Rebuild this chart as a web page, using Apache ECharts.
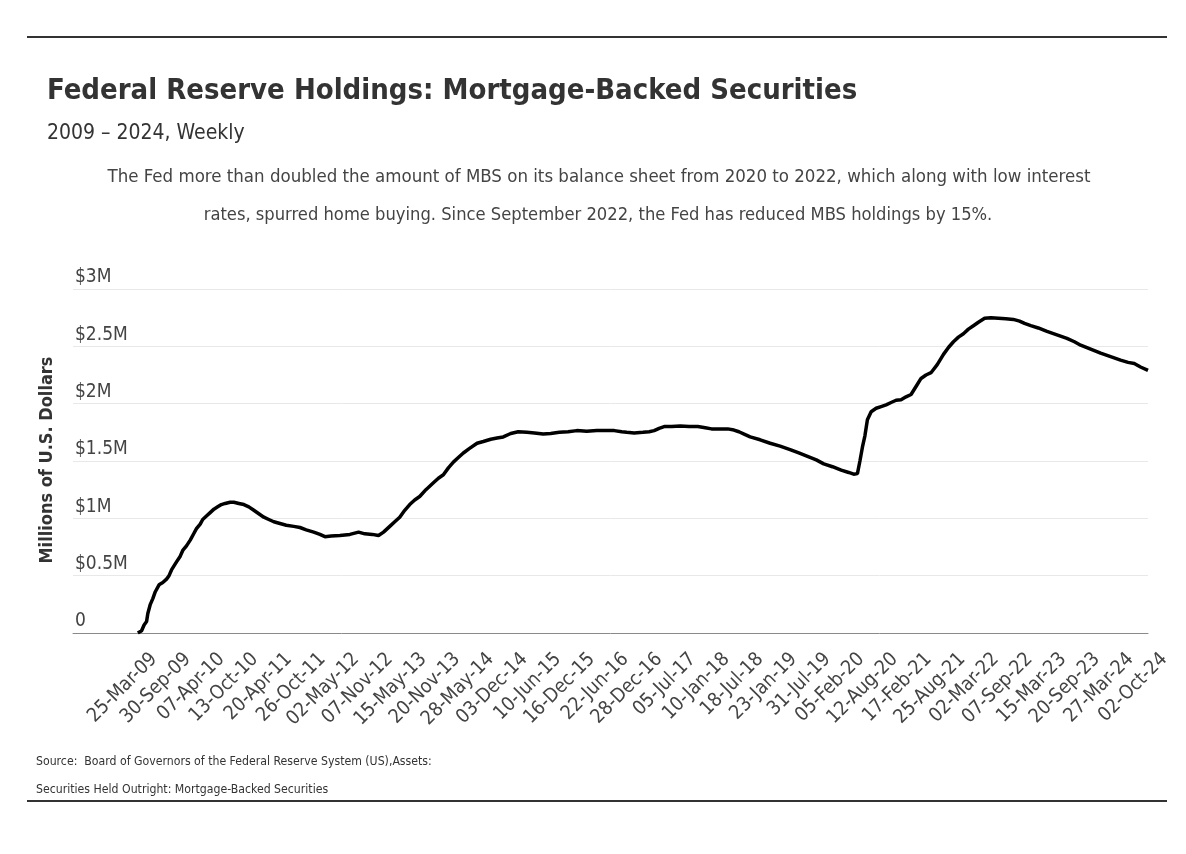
<!DOCTYPE html>
<html>
<head>
<meta charset="utf-8">
<script src="https://cdn.jsdelivr.net/npm/echarts@6/dist/echarts.min.js"></script>
<style>
html,body{margin:0;padding:0;background:#fff;}
#chart{width:1186px;height:854px;}
</style>
</head>
<body>
<div id="chart"></div>
<script>
// Week index since 25-Mar-09 (weekly data)
const weeks = [0,3,5,7,8,10,12,14,17,20,23,25,27,31,34,36,39,42,45,47,50,52,55,58,61,64,67,70,74,77,81,85,89,93,97,101,105,109,114,119,125,130,135,141,146,150,155,162,170,177,182,188,193,197,202,206,210,214,218,222,226,231,237,241,245,249,253,257,261,266,272,277,283,288,293,299,305,312,318,325,331,338,345,352,360,368,375,382,388,392,398,405,410,414,418,422,428,435,442,449,455,460,466,473,478,482,487,491,499,507,515,523,530,537,544,550,557,564,570,574,577,579,581,583,585,588,592,596,600,604,608,612,616,620,624,628,632,636,641,646,650,654,658,662,666,670,674,679,684,690,696,702,707,711,716,722,729,737,745,751,756,764,772,780,788,794,799,804,810];
// MBS holdings, millions of U.S. dollars (axis units "$M")
const values = [0,0.02,0.07,0.10,0.17,0.25,0.30,0.36,0.42,0.44,0.47,0.50,0.55,0.62,0.67,0.72,0.76,0.81,0.87,0.91,0.95,0.99,1.02,1.05,1.08,1.10,1.12,1.13,1.14,1.14,1.13,1.12,1.10,1.07,1.04,1.01,0.99,0.97,0.955,0.94,0.93,0.92,0.90,0.88,0.86,0.84,0.845,0.85,0.86,0.88,0.865,0.86,0.85,0.88,0.93,0.97,1.01,1.07,1.12,1.16,1.19,1.25,1.31,1.35,1.38,1.44,1.49,1.53,1.57,1.61,1.655,1.67,1.69,1.70,1.71,1.74,1.755,1.75,1.745,1.735,1.74,1.75,1.755,1.765,1.76,1.765,1.765,1.765,1.755,1.75,1.745,1.75,1.755,1.765,1.785,1.80,1.80,1.805,1.80,1.80,1.79,1.78,1.78,1.78,1.77,1.755,1.73,1.71,1.685,1.655,1.63,1.60,1.57,1.54,1.51,1.475,1.45,1.42,1.40,1.385,1.39,1.50,1.62,1.72,1.86,1.93,1.96,1.975,1.99,2.01,2.03,2.035,2.06,2.08,2.15,2.22,2.25,2.27,2.34,2.43,2.49,2.54,2.58,2.61,2.65,2.68,2.71,2.745,2.75,2.745,2.74,2.735,2.72,2.70,2.68,2.66,2.63,2.60,2.57,2.54,2.51,2.475,2.44,2.41,2.38,2.36,2.35,2.32,2.29];
const tickLabels = ['25-Mar-09','30-Sep-09','07-Apr-10','13-Oct-10','20-Apr-11','26-Oct-11','02-May-12','07-Nov-12','15-May-13','20-Nov-13','28-May-14','03-Dec-14','10-Jun-15','16-Dec-15','22-Jun-16','28-Dec-16','05-Jul-17','10-Jan-18','18-Jul-18','23-Jan-19','31-Jul-19','05-Feb-20','12-Aug-20','17-Feb-21','25-Aug-21','02-Mar-22','07-Sep-22','15-Mar-23','20-Sep-23','27-Mar-24','02-Oct-24'];
const tickStep = 27; // weeks between labels
const yTickLabels = ['0','$0.5M','$1M','$1.5M','$2M','$2.5M','$3M'];

const title = 'Federal Reserve Holdings: Mortgage-Backed Securities';
const subtitle = '2009 \u2013 2024, Weekly';
const desc1 = 'The Fed more than doubled the amount of MBS on its balance sheet from 2020 to 2022, which along with low interest';
const desc2 = 'rates, spurred home buying. Since September 2022, the Fed has reduced MBS holdings by 15%.';
const yName = 'Millions of U.S. Dollars';
const source1 = 'Source:  Board of Governors of the Federal Reserve System (US),Assets:';
const source2 = 'Securities Held Outright: Mortgage-Backed Securities';

const FONT = '"DejaVu Sans Condensed", "Liberation Sans Narrow", sans-serif';
const tickValues = tickLabels.map((_, i) => i * tickStep);
const seriesData = weeks.map((w, i) => [w, values[i]]);

const chart = echarts.init(document.getElementById('chart'), null, {renderer: 'canvas'});
chart.setOption({
  backgroundColor: '#ffffff',
  animation: false,
  textStyle: {fontFamily: FONT},
  grid: {left: 73, right: 38, top: 289, bottom: 221, containLabel: false},
  xAxis: {
    type: 'value', min: -52, max: 810,
    splitLine: {show: false},
    axisTick: {show: false},
    axisLine: {show: true, lineStyle: {color: '#8a8a8a', width: 1}},
    axisLabel: {
      customValues: tickValues,
      rotate: 45, margin: 7,
      verticalAlign: 'top', padding: [13, 0, 0, 0],
      color: '#444', fontSize: 19.5, fontFamily: FONT,
      formatter: v => tickLabels[Math.round(v / tickStep)] || ''
    }
  },
  yAxis: {
    type: 'value', min: 0, max: 3, interval: 0.5,
    axisLine: {show: false}, axisTick: {show: false},
    splitLine: {lineStyle: {color: '#e8e8e8', width: 1}},
    axisLabel: {
      inside: true, margin: 2, verticalAlign: 'bottom', padding: [0, 0, 2, 0],
      color: '#444', fontSize: 19, fontFamily: FONT,
      formatter: v => yTickLabels[Math.round(v / 0.5)]
    }
  },
  series: [{
    type: 'line', data: seriesData, showSymbol: false, symbol: 'none',
    lineStyle: {color: '#000', width: 3.5}, z: 5
  }],
  graphic: [
    {type: 'line', shape: {x1: 27, y1: 37, x2: 1167, y2: 37}, style: {stroke: '#333', lineWidth: 2}},
    {type: 'text', x: 47, y: 91, style: {text: title, font: 'bold 29px ' + FONT, fill: '#333', textVerticalAlign: 'middle'}},
    {type: 'text', x: 47, y: 134, style: {text: subtitle, font: '21px ' + FONT, fill: '#333', textVerticalAlign: 'middle'}},
    {type: 'text', x: 599, y: 177, style: {text: desc1, font: '18.5px ' + FONT, fill: '#444', textAlign: 'center', textVerticalAlign: 'middle'}},
    {type: 'text', x: 598, y: 215, style: {text: desc2, font: '18.2px ' + FONT, fill: '#444', textAlign: 'center', textVerticalAlign: 'middle'}},
    {type: 'text', x: 47, y: 460, rotation: Math.PI / 2, style: {text: yName, font: 'bold 18px ' + FONT, fill: '#333', textAlign: 'center', textVerticalAlign: 'middle'}},
    {type: 'text', x: 36, y: 762, style: {text: source1, font: '12.2px ' + FONT, fill: '#333', textVerticalAlign: 'middle'}},
    {type: 'text', x: 36, y: 790, style: {text: source2, font: '12.2px ' + FONT, fill: '#333', textVerticalAlign: 'middle'}},
    {type: 'line', shape: {x1: 27, y1: 801, x2: 1167, y2: 801}, style: {stroke: '#333', lineWidth: 2}}
  ]
});
</script>
</body>
</html>
